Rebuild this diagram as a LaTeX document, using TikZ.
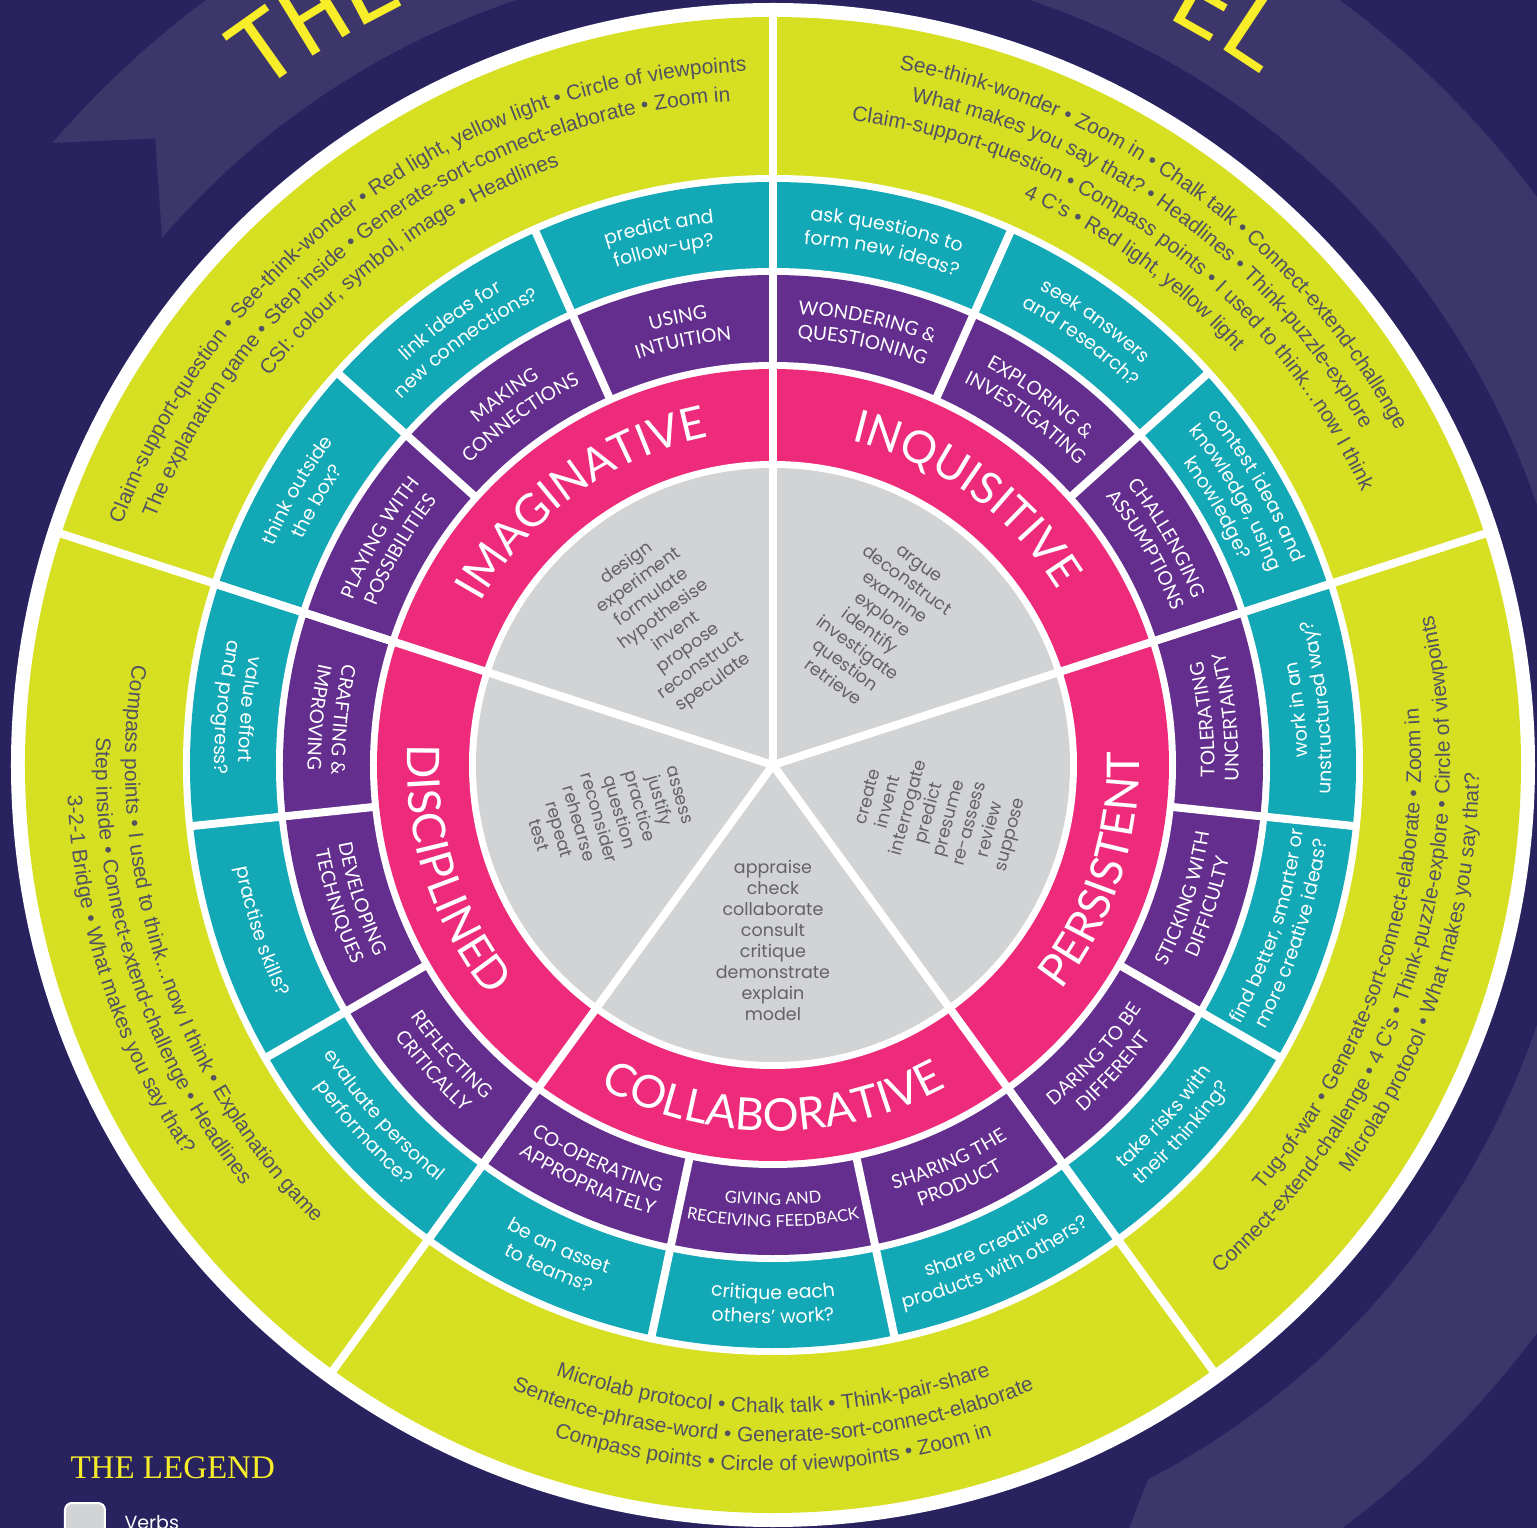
\documentclass[tikz,border=0pt]{standalone}
\usepackage{fontspec}
\usetikzlibrary{decorations.text,positioning}

\newfontfamily\verbfont{Poppins}
\newfontfamily\capsfont{Lato}
\newfontfamily\toolfont{Liberation Sans}
\newfontfamily\legendfont{Liberation Serif}
\newfontfamily\titlefont{DejaVu Sans Mono}

\definecolor{navy}{RGB}{40,35,95}
\definecolor{band}{RGB}{61,54,107}
\definecolor{lime}{RGB}{215,223,35}
\definecolor{tealring}{RGB}{18,168,182}
\definecolor{plum}{RGB}{100,46,142}
\definecolor{pink}{RGB}{238,42,123}
\definecolor{core}{RGB}{209,211,212}
\definecolor{titleyellow}{RGB}{247,237,40}
\definecolor{tooltext}{RGB}{82,82,98}
\definecolor{verbtext}{RGB}{98,98,104}

% one line of text bent round the wheel: radius, from, to, font, colour, text
\newcommand\arcline[6]{%
  \path[decorate,decoration={text along path,text align=center,
      text color=#5,text={|#4|#6}}]
    (#2:#1) arc[start angle=#2,end angle=#3,radius=#1];}
\newcommand\bigline[4]{\arcline{#1}{#2}{#3}{\capsfont\fontsize{45}{45}\selectfont}{white}{#4}}
\newcommand\habitline[4]{\arcline{#1}{#2}{#3}{\capsfont\fontsize{19}{22}\selectfont}{white}{#4}}
\newcommand\askline[4]{\arcline{#1}{#2}{#3}{\verbfont\fontsize{19}{22}\selectfont}{white}{#4}}
\newcommand\toolline[4]{\arcline{#1}{#2}{#3}{\toolfont\fontsize{21}{24}\selectfont}{tooltext}{#4}}

\begin{document}
\begin{tikzpicture}[x=1pt,y=1pt,
  gap/.style={white,line width=8pt},
  verbs/.style={align=center,text=verbtext,font=\verbfont\fontsize{17.5}{21}\selectfont}]
  \useasboundingbox (-773,-763) rectangle (764,765);
  \fill[navy] (-773,-763) rectangle (764,765);

  % ribbon arrow behind the wheel
  \fill[band] (139.2:952) arc[start angle=139.2,end angle=-62.3,radius=952]
    -- (-67.5:880) -- (-62.3:807) arc[start angle=-62.3,end angle=139.2,radius=807]
    -- (134.6:880) -- cycle;
  \path[decorate,decoration={text along path,text align=left,text color=titleyellow,
      text={|\titlefont\fontsize{95}{95}\selectfont|THE}}]
    (127.3:845) arc[start angle=127.3,end angle=95,radius=845];
  \path[decorate,decoration={text along path,text align=right,text color=titleyellow,
      text={|\titlefont\fontsize{95}{95}\selectfont|EL}}]
    (80:845) arc[start angle=80,end angle=54.6,radius=845];

  % rings, outside in
  \foreach \rad/\col in {762/white,748/lime,590/white,583/tealring,497/white,
      490/plum,403/white,396/pink,304/white,297/core}
    \fill[\col] (0,0) circle[radius=\rad];
  \foreach \a in {18,90,...,306}
    \draw[gap] (0,0) -- (\a:752);
  \foreach \a in {18,42,...,354}
    \draw[gap] (\a:400) -- (\a:587);

  % verbs
  \node[verbs,rotate=36] (imagverbs) at (126:175)
    {design\\experiment\\formulate\\hypothesise\\invent\\propose\\reconstruct\\speculate};
  \node[verbs,rotate=-36] (inqverbs) at (54:175)
    {argue\\deconstruct\\examine\\explore\\identify\\investigate\\question\\retrieve};
  \node[verbs,rotate=75] (persverbs) at (-17:175)
    {create\\invent\\interrogate\\predict\\presume\\re-assess\\review\\suppose};
  \node[verbs] (collverbs) at (-90:175)
    {appraise\\check\\collaborate\\consult\\critique\\demonstrate\\explain\\model};
  \node[verbs,rotate=-74] (discverbs) at (197:172)
    {assess\\justify\\practice\\question\\reconsider\\rehearse\\repeat\\test};

  % the five dispositions
  \bigline{334}{162}{90}{IMAGINATIVE}
  \bigline{334}{90}{18}{INQUISITIVE}
  \bigline{366}{-54}{18}{PERSISTENT}
  \bigline{366}{234}{306}{COLLABORATIVE}
  \bigline{366}{162}{234}{DISCIPLINED}

  % habits
  \habitline{451.5}{114}{90}{USING}
  \habitline{427.5}{114}{90}{INTUITION}
  \habitline{451.5}{138}{114}{MAKING}
  \habitline{427.5}{138}{114}{CONNECTIONS}
  \habitline{451.5}{162}{138}{PLAYING WITH}
  \habitline{427.5}{162}{138}{POSSIBILITIES}
  \habitline{451.5}{90}{66}{WONDERING {\&}}
  \habitline{427.5}{90}{66}{QUESTIONING}
  \habitline{451.5}{66}{42}{EXPLORING {\&}}
  \habitline{427.5}{66}{42}{INVESTIGATING}
  \habitline{451.5}{42}{18}{CHALLENGING}
  \habitline{427.5}{42}{18}{ASSUMPTIONS}
  \habitline{441.5}{-6}{18}{TOLERATING}
  \habitline{465.5}{-6}{18}{UNCERTAINTY}
  \habitline{441.5}{-30}{-6}{STICKING WITH}
  \habitline{465.5}{-30}{-6}{DIFFICULTY}
  \habitline{441.5}{-54}{-30}{DARING TO BE}
  \habitline{465.5}{-54}{-30}{DIFFERENT}
  \habitline{441.5}{282}{306}{SHARING THE}
  \habitline{465.5}{282}{306}{PRODUCT}
  \arcline{440}{258}{282}{\capsfont\fontsize{16.5}{18}\selectfont}{white}{GIVING AND}
  \arcline{462}{258}{282}{\capsfont\fontsize{16.5}{18}\selectfont}{white}{RECEIVING FEEDBACK}
  \habitline{441.5}{234}{258}{CO-OPERATING}
  \habitline{465.5}{234}{258}{APPROPRIATELY}
  \habitline{441.5}{210}{234}{REFLECTING}
  \habitline{465.5}{210}{234}{CRITICALLY}
  \habitline{441.5}{186}{210}{DEVELOPING}
  \habitline{465.5}{186}{210}{TECHNIQUES}
  \habitline{441.5}{162}{186}{CRAFTING {\&}}
  \habitline{465.5}{162}{186}{IMPROVING}

  % questions
  \askline{545.5}{114}{90}{predict and}
  \askline{521.5}{114}{90}{follow-up?}
  \askline{545.5}{138}{114}{link ideas for}
  \askline{521.5}{138}{114}{new connections?}
  \askline{545.5}{162}{138}{think outside}
  \askline{521.5}{162}{138}{the box?}
  \askline{545.5}{90}{66}{ask questions to}
  \askline{521.5}{90}{66}{form new ideas?}
  \askline{545.5}{66}{42}{seek answers}
  \askline{521.5}{66}{42}{and research?}
  \askline{557.5}{42}{18}{contest ideas and}
  \askline{533.5}{42}{18}{knowledge, using}
  \askline{509.5}{42}{18}{knowledge?}
  \askline{534.5}{-6}{18}{work in an}
  \askline{558.5}{-6}{18}{unstructured way?}
  \askline{534.5}{-30}{-6}{find better, smarter or}
  \askline{558.5}{-30}{-6}{more creative ideas?}
  \askline{534.5}{-54}{-30}{take risks with}
  \askline{558.5}{-54}{-30}{their thinking?}
  \askline{534.5}{282}{306}{share creative}
  \askline{558.5}{282}{306}{products with others?}
  \askline{534.5}{258}{282}{critique each}
  \askline{558.5}{258}{282}{others’ work?}
  \askline{534.5}{234}{258}{be an asset}
  \askline{558.5}{234}{258}{to teams?}
  \askline{534.5}{210}{234}{evaluate personal}
  \askline{558.5}{210}{234}{performance?}
  \askline{546.5}{186}{210}{practise skills?}
  \askline{534.5}{162}{186}{value effort}
  \askline{558.5}{162}{186}{and progress?}

  % thinking routines
  \toolline{694}{162}{90}{Claim-support-question • See-think-wonder • Red light, yellow light • Circle of viewpoints}
  \toolline{665}{162}{90}{The explanation game • Step inside • Generate-sort-connect-elaborate • Zoom in}
  \toolline{636}{162}{90}{CSI: colour, symbol, image • Headlines}
  \toolline{707}{90}{18}{See-think-wonder • Zoom in • Chalk talk • Connect-extend-challenge}
  \toolline{678}{90}{18}{What makes you say that? • Headlines • Think-puzzle-explore}
  \toolline{649}{90}{18}{Claim-support-question • Compass points • I used to think…now I think}
  \toolline{620}{90}{18}{4 C’s • Red light, yellow light}
  \toolline{648}{-54}{18}{Tug-of-war • Generate-sort-connect-elaborate • Zoom in}
  \toolline{677}{-54}{18}{Connect-extend-challenge • 4 C’s • Think-puzzle-explore • Circle of viewpoints}
  \toolline{706}{-54}{18}{Microlab protocol • What makes you say that?}
  \toolline{648}{234}{306}{Microlab protocol • Chalk talk • Think-pair-share}
  \toolline{677}{234}{306}{Sentence-phrase-word • Generate-sort-connect-elaborate}
  \toolline{706}{234}{306}{Compass points • Circle of viewpoints • Zoom in}
  \toolline{648}{162}{234}{Compass points • I used to think…now I think • Explanation game}
  \toolline{677}{162}{234}{Step inside • Connect-extend-challenge • Headlines}
  \toolline{706}{162}{234}{3-2-1 Bridge • What makes you say that?}

  % legend
  \node[anchor=base west,text=titleyellow,font=\legendfont\fontsize{33}{33}\selectfont]
    (legend) at (-706,-713) {THE LEGEND};
  \node[draw=white,line width=2pt,fill=core,rounded corners=7pt,minimum size=40pt,
    inner sep=0pt] (verbkey) at (-688,-758) {};
  \node[right=15pt of verbkey,text=white,font=\verbfont\fontsize{19}{19}\selectfont]
    (verbkeylabel) {Verbs};
\end{tikzpicture}
\end{document}
